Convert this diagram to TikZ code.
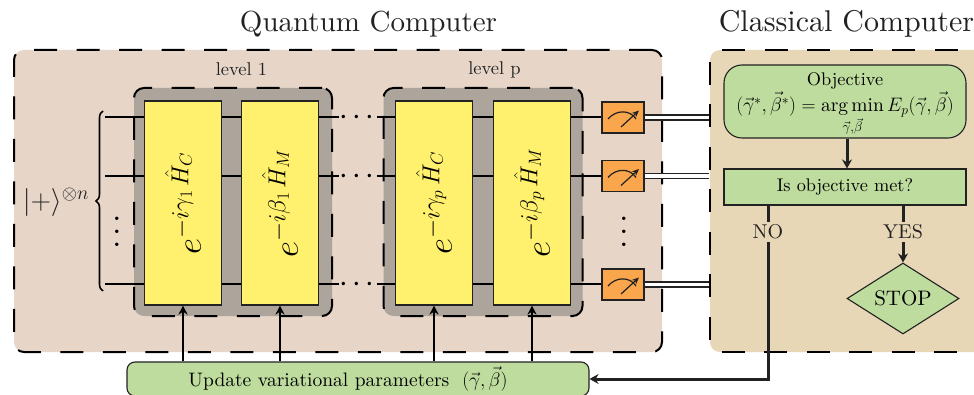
\RequirePackage{fix-cm}
\documentclass[tikz,border=0pt]{standalone}
\usepackage{amsmath}
\usepackage{fontspec}
\setmainfont{lmroman10-regular.otf}
\usetikzlibrary{arrows.meta,shapes.geometric,decorations.pathreplacing}
\definecolor{quantumbg}{HTML}{E7D5C8}
\definecolor{classicalbg}{HTML}{E7D7B6}
\definecolor{levelbg}{HTML}{ADA59B}
\definecolor{gateyellow}{HTML}{FFF06E}
\definecolor{meterorange}{HTML}{F9A64C}
\definecolor{stepgreen}{HTML}{BEDC9E}
\definecolor{inkdark}{HTML}{222222}
\newcommand{\fsz}[1]{\fontsize{#1}{#1}\selectfont}
\newcommand{\dial}[1]{\draw[line width=1.2pt,inkdark,shift={(#1.center)}] (-15,1.5) .. controls (-7,-8) and (7,-8) .. (13,1.5);
\draw[line width=1.2pt,inkdark,-{Stealth[length=7pt,width=6pt]},shift={(#1.center)}] (-2,9.5) -- (16,-7);}
\tikzset{
panel/.style={draw=black,line width=2pt,dash pattern=on 23pt off 19.5pt,rounded corners=10pt,inner sep=0},
levelbox/.style={panel,fill=levelbg},
gate/.style={draw=inkdark,line width=1.1pt,fill=gateyellow,minimum width=77,minimum height=204,inner sep=0,font=\fsz{35}},
meter/.style={draw=inkdark,line width=1.7pt,fill=meterorange,minimum width=42,minimum height=31,inner sep=0},
stepbox/.style={draw=inkdark,line width=1.1pt,fill=stepgreen,inner sep=0,align=center,font=\fsz{18.3}},
wire/.style={draw=black,line width=1.8pt},
readout/.style={draw=inkdark,line width=1.5pt,double=white,double distance=3.6pt},
flow/.style={draw=inkdark,line width=3pt},
feed/.style={draw=black,line width=1.8pt,-{Stealth[length=9pt,width=9pt]}},
dotsn/.style={inner sep=0,font=\normalsize}
}
\begin{document}
\begin{tikzpicture}[x=1pt,y=-1pt]
\useasboundingbox (0,0) rectangle (974,395);
\clip (0,0) rectangle (974,395);
\node[inner sep=0,font=\fsz{29},text=inkdark] (qtitle) at (368.5,24) {Quantum Computer};
\node[inner sep=0,font=\fsz{30},text=inkdark] (ctitle) at (846.5,24) {Classical Computer};

\node[panel,fill=quantumbg,minimum width=648,minimum height=302] (quantum) at (338,201) {};
\node[panel,fill=classicalbg,minimum width=300,minimum height=302] (classical) at (860,201) {};

\node[inner sep=0,font=\fsz{18.5},text=inkdark] (lvla) at (241.5,69) {level 1};
\node[inner sep=0,font=\fsz{18.5},text=inkdark] (lvlp) at (494.5,70) {level p};
\node[levelbox,minimum width=198,minimum height=228] (levela) at (233,202) {};
\node[levelbox,minimum width=199,minimum height=228] (levelp) at (483,202) {};

\node[meter] (mta) at (623,117.5) {};
\node[meter] (mtb) at (623,176) {};
\node[meter] (mtc) at (623,284.5) {};
\dial{mta}
\dial{mtb}
\dial{mtc}

\coordinate (wa) at (105,117);
\coordinate (wb) at (105,176);
\coordinate (wc) at (105,284);
\coordinate (gapl) at (339,0);
\coordinate (gapr) at (377,0);
\draw[wire] (wa) -- (wa -| gapl);
\draw[wire] (wb) -- (wb -| gapl);
\draw[wire] (wc) -- (wc -| gapl);
\draw[wire] (wa -| gapr) -- (wa -| mta.west);
\draw[wire] (wb -| gapr) -- (wb -| mtb.west);
\draw[wire] (wc -| gapr) -- (wc -| mtc.west);
\node[dotsn,rotate=90] (dota) at (347,117) {\scalebox{3.25}{$\vdots$}};
\node[dotsn,rotate=90] (dotb) at (347,176) {\scalebox{3.25}{$\vdots$}};
\node[dotsn,rotate=90] (dotc) at (347,284) {\scalebox{3.25}{$\vdots$}};

\node[gate] (gca) at (183,203) {\rotatebox{90}{$e^{-i\gamma_1\,\hat{H}_C}$}};
\node[gate] (gma) at (280,203) {\rotatebox{90}{$e^{-i\beta_1\,\hat{H}_M}$}};
\node[gate] (gcp) at (434,203) {\rotatebox{90}{$e^{-i\gamma_p\,\hat{H}_C}$}};
\node[gate] (gmp) at (532,203) {\rotatebox{90}{$e^{-i\beta_p\,\hat{H}_M}$}};

\coordinate (bracebot) at (103,291);
\coordinate (bracetop) at (103,111);
\draw[line width=1.6pt,draw=black,decorate,decoration={brace,amplitude=7pt}] (bracebot) -- (bracetop);
\node[inner sep=0,font=\fsz{28},text=inkdark] (plus) at (56,202) {$|{+}\rangle^{\otimes n}$};
\node[dotsn] (vdl) at (117,222) {\scalebox{3.25}{$\vdots$}};
\node[dotsn] (vdr) at (624,222) {\scalebox{3.25}{$\vdots$}};

\node[stepbox,rounded corners=18pt,minimum width=242,minimum height=73] (objective) at (845,101.5) {\rule{0pt}{19pt}Objective\\[2pt] \fsz{19.5}$(\vec{\gamma}^{*},\vec{\beta}^{*})=\underset{\vec{\gamma},\vec{\beta}}{\arg\min}\,E_p(\vec{\gamma},\vec{\beta})$};
\node[stepbox,minimum width=242,minimum height=36] (met) at (845,187) {Is objective met?};
\node[inner sep=3pt,fill=classicalbg,font=\fsz{20},text=inkdark] (no) at (768,232) {NO};
\node[inner sep=3pt,fill=classicalbg,font=\fsz{20},text=inkdark] (yes) at (903,232) {YES};
\node[stepbox,diamond,aspect=1.58,minimum width=112,minimum height=71,font=\fsz{21}] (stop) at (903,298.5) {STOP};
\node[stepbox,rounded corners=8pt,minimum width=462,minimum height=34,font=\fsz{19.5}] (update) at (358,379) {Update variational parameters\ \ $(\vec{\gamma},\vec{\beta})$\hspace*{20pt}};

\draw[readout] (mta.east) -- (mta.east -| classical.west);
\draw[readout] (mtb.east) -- (mtb.east -| classical.west);
\draw[readout] (mtc.east) -- (mtc.east -| classical.west);

\draw[flow,-{Stealth[length=9pt,width=10pt]}] ([xshift=2pt]objective.south) -- ([xshift=2pt]met.north);
\draw[flow] (met.south -| no) -- (no.north);
\draw[flow] (met.south -| yes) -- (yes.north);
\draw[flow,-{Stealth[length=9pt,width=10pt]}] (yes.south) -- (stop.north);
\draw[flow,-{Stealth[length=9pt,width=10pt]}] (no.south) |- (update.east);

\draw[feed] (gca.south |- update.north) -- (gca.south);
\draw[feed] (gma.south |- update.north) -- (gma.south);
\draw[feed] (gcp.south |- update.north) -- (gcp.south);
\draw[feed] (gmp.south |- update.north) -- (gmp.south);
\end{tikzpicture}
\end{document}
